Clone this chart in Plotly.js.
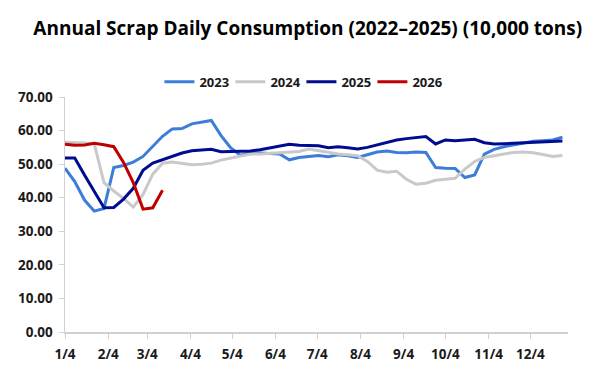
<!DOCTYPE html>
<html>
<head>
<meta charset="utf-8">
<script src="https://cdn.plot.ly/plotly-3.0.1.min.js"></script>
<style>
  html, body { margin: 0; padding: 0; background: #ffffff; }
  #chart { width: 600px; height: 376px; }
</style>
</head>
<body>
<div id="chart"></div>
<script>
// Weekly sample dates (plotted on a common calendar year)
const weekDates = [
  "2023-01-04","2023-01-11","2023-01-18","2023-01-25",
  "2023-02-01","2023-02-08","2023-02-15","2023-02-22",
  "2023-03-01","2023-03-08","2023-03-15","2023-03-22","2023-03-29",
  "2023-04-05","2023-04-12","2023-04-19","2023-04-26",
  "2023-05-03","2023-05-10","2023-05-17","2023-05-24","2023-05-31",
  "2023-06-07","2023-06-14","2023-06-21","2023-06-28",
  "2023-07-05","2023-07-12","2023-07-19","2023-07-26",
  "2023-08-02","2023-08-09","2023-08-16","2023-08-23","2023-08-30",
  "2023-09-06","2023-09-13","2023-09-20","2023-09-27",
  "2023-10-04","2023-10-11","2023-10-18","2023-10-25",
  "2023-11-01","2023-11-08","2023-11-15","2023-11-22","2023-11-29",
  "2023-12-06","2023-12-13","2023-12-20","2023-12-27"
];

const series2023 = [
  48.8, 44.8, 39.3, 36.0, 36.8, 49.0, 49.6, 50.6, 52.3, 55.3,
  58.3, 60.5, 60.6, 62.0, 62.5, 63.0, 58.5, 54.8, 52.6, 53.5,
  53.3, 53.2, 53.0, 51.3, 52.0, 52.3, 52.6, 52.2, 52.8, 52.5,
  52.0, 52.8, 53.6, 53.9, 53.5, 53.4, 53.6, 53.5, 49.0, 48.8,
  48.7, 46.0, 46.8, 53.0, 54.4, 55.2, 55.8, 56.3, 56.8, 57.0,
  57.2, 58.0
];

const series2024 = [
  56.5, 56.5, 56.3, 56.0, 44.5, 42.0, 39.8, 37.2, 41.0, 47.0,
  50.3, 50.6, 50.3, 49.8, 50.0, 50.3, 51.2, 51.8, 52.3, 53.0,
  53.0, 53.2, 53.5, 53.5, 53.8, 54.5, 54.0, 53.3, 53.0, 52.8,
  52.5, 50.8, 48.2, 47.6, 47.9, 45.5, 44.0, 44.3, 45.2, 45.5,
  45.8, 48.5, 50.8, 52.0, 52.5, 53.0, 53.5, 53.6, 53.4, 52.9,
  52.3, 52.6
];

const series2025 = [
  51.8, 51.8, 46.8, 41.8, 37.0, 37.1, 39.6, 42.8, 48.2, 50.3,
  51.3, 52.3, 53.3, 54.0, 54.1, 54.4, 53.7, 53.8, 53.8, 53.9,
  54.3, 54.8, 55.5, 55.9, 55.6, 55.6, 55.5, 54.9, 55.2, 54.9,
  54.5, 55.0, 55.7, 56.4, 57.2, 57.6, 57.9, 58.2, 56.0, 57.2,
  57.0, 57.2, 57.4, 56.4, 56.0, 56.1, 56.2, 56.4, 56.6, 56.7,
  56.8, 56.9
];

const series2026 = [
  55.9, 55.6, 55.7, 56.2, 55.8, 55.2, 50.5, 44.5, 36.6, 37.0, 42.2
];

const seriesNames = ["2023", "2024", "2025", "2026"];
const seriesColors = ["#3C7DD9", "#C9C9C9", "#000C8F", "#C00000"];

const tickDates = [
  "2023-01-04","2023-02-04","2023-03-04","2023-04-04","2023-05-04","2023-06-04",
  "2023-07-04","2023-08-04","2023-09-04","2023-10-04","2023-11-04","2023-12-04"
];
const tickLabels = ["1/4","2/4","3/4","4/4","5/4","6/4","7/4","8/4","9/4","10/4","11/4","12/4"];

const yTicks = [0, 10, 20, 30, 40, 50, 60, 70];

const allSeries = [series2023, series2024, series2025, series2026];
const traces = allSeries.map((vals, i) => ({
  type: "scatter",
  mode: "lines",
  name: seriesNames[i],
  x: weekDates.slice(0, vals.length),
  y: vals,
  line: { color: seriesColors[i], width: 3 },
  hoverinfo: "skip"
}));

const fontFam = "'Open Sans', 'Noto Sans', sans-serif";

const layout = {
  width: 600,
  height: 376,
  margin: { l: 65, r: 32, t: 97, b: 44 },
  paper_bgcolor: "#ffffff",
  plot_bgcolor: "#ffffff",
  font: { family: fontFam, color: "#1a1a1a" },
  title: {
    text: "<b>Annual Scrap Daily Consumption (2022–2025) (10,000 tons)</b>",
    font: { family: fontFam, size: 19, color: "#000000" },
    x: 0.513, xanchor: "center",
    xref: "container", yref: "container",
    y: 0.925, yanchor: "middle"
  },
  showlegend: true,
  legend: {
    orientation: "h",
    x: 0.47, xanchor: "center",
    y: 1.065, yanchor: "middle",
    font: { family: fontFam, size: 13, color: "#1a1a1a", weight: "bold" },
    itemwidth: 30,
    entrywidth: 26,
    entrywidthmode: "pixels",
    tracegroupgap: 0
  },
  xaxis: {
    type: "date",
    range: ["2023-01-04", "2023-12-31"],
    tickmode: "array",
    tickvals: tickDates,
    ticktext: tickLabels,
    showgrid: false,
    zeroline: false,
    showline: true,
    linecolor: "#D0D0D0",
    linewidth: 1.5,
    ticks: "outside",
    ticklen: 5,
    tickcolor: "#D0D0D0",
    tickfont: { family: fontFam, size: 13.5, color: "#1a1a1a", weight: "bold" },
    ticklabelstandoff: 4
  },
  yaxis: {
    range: [0, 70],
    tickmode: "array",
    tickvals: yTicks,
    ticktext: yTicks.map(v => v.toFixed(2)),
    showgrid: false,
    zeroline: false,
    showline: true,
    linecolor: "#D0D0D0",
    linewidth: 1.5,
    ticks: "outside",
    ticklen: 5,
    tickcolor: "#D0D0D0",
    tickfont: { family: fontFam, size: 13.5, color: "#1a1a1a", weight: "bold" },
    ticklabelstandoff: 3
  }
};

Plotly.newPlot("chart", traces, layout, { displayModeBar: false, staticPlot: true });
</script>
</body>
</html>
